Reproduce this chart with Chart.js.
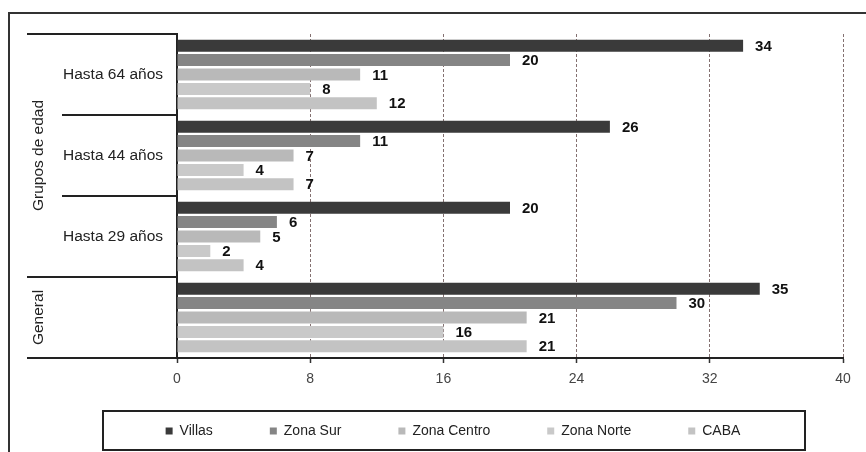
<!DOCTYPE html>
<html><head><meta charset="utf-8">
<script src="https://cdn.jsdelivr.net/npm/chart.js@4"></script>
<style>html,body{margin:0;padding:0;background:#fff;}#wrap{width:866px;height:452px;}</style>
</head><body><div id="wrap"><canvas id="c" width="866" height="452"></canvas></div>
<script>
// ---- data ----
const categories = ['Hasta 64 años', 'Hasta 44 años', 'Hasta 29 años', 'General'];
const seriesNames = ['Villas', 'Zona Sur', 'Zona Centro', 'Zona Norte', 'CABA'];
const villas = [34, 26, 20, 35];
const zonaSur = [20, 11, 6, 30];
const zonaCentro = [11, 7, 5, 21];
const zonaNorte = [8, 4, 2, 16];
const caba = [12, 7, 4, 21];
const xTickValues = [0, 8, 16, 24, 32, 40];
const groupNames = ['Grupos de edad', 'General'];
const groupFirst = [0, 3];
const groupLast = [2, 3];
const hiddenCategoryLabels = ['General'];

const seriesValues = [villas, zonaSur, zonaCentro, zonaNorte, caba];
const seriesColors = ['#3a3a3a', '#858585', '#b9b9b9', '#c9c9c9', '#c3c3c3'];
const FONT = '"Liberation Sans", Arial, sans-serif';
const LEG_PAD = 57;
const LEG_TEXT_Y = 431;

const decor = {
  id: 'decor',
  afterLayout(chart) {
    const lg = chart.legend;
    if (!lg) return;
    const dy = (LEG_TEXT_Y - LEG_PAD - 7) - lg.top;
    lg.top += dy; lg.bottom += dy;
  },
  beforeDraw(chart) {
    const ctx = chart.ctx;
    ctx.save(); ctx.fillStyle = '#fff'; ctx.fillRect(0, 0, chart.width, chart.height); ctx.restore();
  },
  afterDatasetsDraw(chart) {
    const ctx = chart.ctx;
    ctx.save();
    ctx.font = 'bold 15px ' + FONT;
    ctx.fillStyle = '#111';
    ctx.textAlign = 'left';
    ctx.textBaseline = 'middle';
    chart.data.datasets.forEach((ds, di) => {
      const meta = chart.getDatasetMeta(di);
      meta.data.forEach((bar, i) => {
        ctx.fillText(String(ds.data[i]), bar.x + 12, bar.y + 1);
      });
    });
    ctx.restore();
  },
  afterDraw(chart) {
    const {ctx, chartArea: ca, scales: {y}} = chart;
    ctx.save();
    // outer frame
    ctx.strokeStyle = '#333'; ctx.lineWidth = 2;
    ctx.strokeRect(9, 13, 900, 500);
    // category boundaries
    const n = categories.length;
    const bounds = [];
    for (let i = 0; i <= n; i++) {
      if (i === 0) bounds.push(ca.top);
      else if (i === n) bounds.push(ca.bottom);
      else bounds.push((y.getPixelForValue(i - 1) + y.getPixelForValue(i)) / 2);
    }
    const groupEdges = new Set();
    groupFirst.forEach(f => groupEdges.add(f));
    groupLast.forEach(l => groupEdges.add(l + 1));
    ctx.strokeStyle = '#222'; ctx.lineWidth = 2;
    bounds.forEach((b, i) => {
      const x0 = groupEdges.has(i) ? ca.left - 150 : ca.left - 115;
      ctx.beginPath(); ctx.moveTo(x0, Math.round(b)); ctx.lineTo(ca.left, Math.round(b)); ctx.stroke();
    });
    // group labels (rotated)
    ctx.fillStyle = '#222';
    ctx.font = '15.5px ' + FONT;
    ctx.textAlign = 'center'; ctx.textBaseline = 'middle';
    groupNames.forEach((g, k) => {
      const cy = (bounds[groupFirst[k]] + bounds[groupLast[k] + 1]) / 2;
      ctx.save(); ctx.translate(ca.left - 138, cy); ctx.rotate(-Math.PI / 2);
      ctx.fillText(g, 0, 0); ctx.restore();
    });
    // legend frame
    const lg = chart.legend;
    const cx = (lg.left + lg.right) / 2;
    ctx.strokeStyle = '#222'; ctx.lineWidth = 2;
    ctx.strokeRect(Math.round(cx - 350), Math.round(LEG_TEXT_Y - 20), 702, 39);
    ctx.restore();
  }
};

new Chart(document.getElementById('c'), {
  type: 'bar',
  data: {
    labels: categories,
    datasets: seriesNames.map((name, i) => ({
      label: name,
      data: seriesValues[i],
      backgroundColor: seriesColors[i],
      borderWidth: 0,
      categoryPercentage: 0.89,
      barPercentage: 0.83
    }))
  },
  options: {
    indexAxis: 'y',
    responsive: false,
    animation: false,
    devicePixelRatio: 1,
    layout: { padding: { left: 63, right: 23, top: 34, bottom: -21 } },
    scales: {
      x: {
        min: 0, max: 40,
        afterBuildTicks(scale) { scale.ticks = xTickValues.map(v => ({ value: v })); },
        afterFit(scale) { scale.height = 34; },
        grid: {
          color: 'rgba(110,88,88,0.85)',
          lineWidth: 1,
          tickColor: '#333',
          tickLength: 5,
          tickWidth: 1.5,
          tickBorderDash: []
        },
        border: { display: true, color: '#222', width: 2, dash: [3, 2] },
        ticks: { color: '#444', font: { family: FONT, size: 14 }, padding: 8 }
      },
      y: {
        afterFit(scale) { scale.width = 114; },
        grid: { display: false, drawTicks: false },
        border: { display: true, color: '#222', width: 2 },
        ticks: {
          color: '#222',
          font: { family: FONT, size: 15.5 },
          padding: 14,
          callback(value) {
            const lab = this.getLabelForValue(value);
            return hiddenCategoryLabels.includes(lab) ? '' : lab;
          }
        }
      }
    },
    plugins: {
      legend: {
        position: 'bottom',
        labels: {
          boxWidth: 7, boxHeight: 7,
          padding: LEG_PAD,
          color: '#222',
          font: { family: FONT, size: 14 }
        }
      },
      tooltip: { enabled: false }
    }
  },
  plugins: [decor]
});
</script>
</body></html>
